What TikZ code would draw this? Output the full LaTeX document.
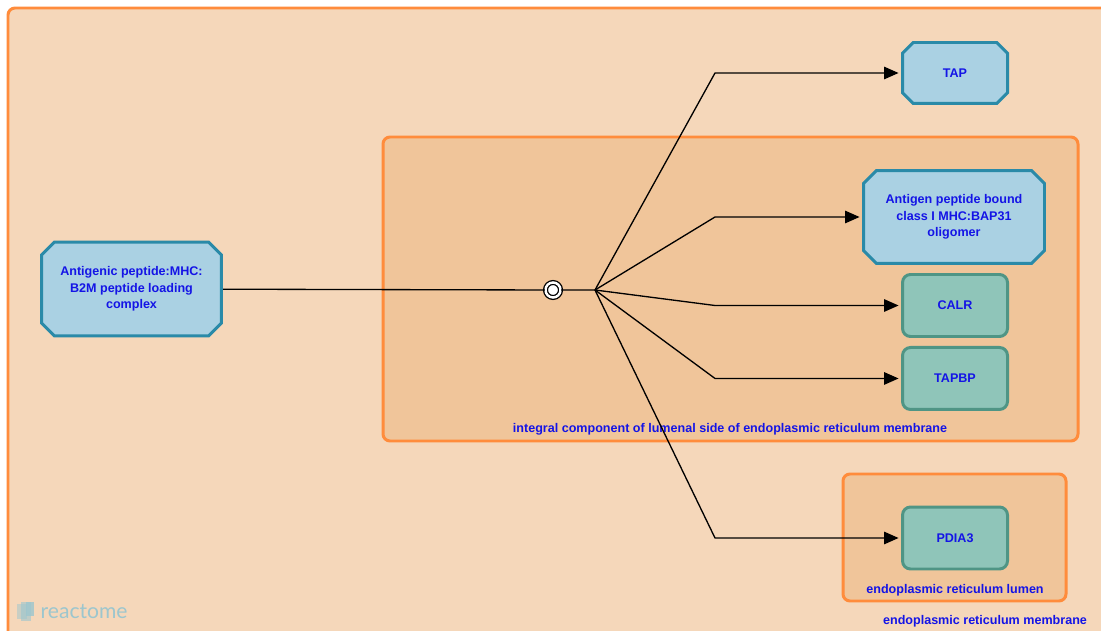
\documentclass[tikz,border=0pt]{standalone}
\usepackage{fontspec}
\setmainfont{Liberation Sans}
\newfontfamily\logofont{Lato}
\usetikzlibrary{arrows.meta,positioning,shapes.misc}

\definecolor{outerfill}{HTML}{F5D7BA}
\definecolor{innerfill}{HTML}{F0C59A}
\definecolor{compline}{HTML}{FF8C3C}
\definecolor{cplxfill}{HTML}{AAD1E3}
\definecolor{cplxline}{HTML}{2A8AA8}
\definecolor{protfill}{HTML}{8FC5B9}
\definecolor{protline}{HTML}{4F9585}
\definecolor{txtblue}{HTML}{1414E6}
\definecolor{logoblue}{HTML}{9CC6CE}

\begin{document}
\begin{tikzpicture}[x=0.02cm,y=-0.02cm,line width=0.75pt,
    >={Triangle[length=0.29cm,width=0.25cm]},
    comp/.style={draw=compline,line width=1.7pt,rounded corners=0.14cm},
    comp label/.style={text=txtblue,font=\fontsize{7.15}{9.4}\selectfont\bfseries},
    complex node/.style={chamfered rectangle,chamfered rectangle xsep=0.13cm,chamfered rectangle ysep=0.13cm,draw=cplxline,fill=cplxfill,line width=1.7pt,align=center,text=txtblue,font=\fontsize{7.15}{9.4}\selectfont\bfseries,inner sep=0pt},
    protein node/.style={rectangle,rounded corners=0.16cm,draw=protline,fill=protfill,line width=1.7pt,minimum width=2.1cm,minimum height=1.24cm,align=center,text=txtblue,font=\fontsize{7.15}{9.4}\selectfont\bfseries},
    reaction node/.style={circle,draw=black,fill=white,double=white,double distance=1.4pt,line width=0.75pt,minimum size=0.3cm,inner sep=0pt},
    conn/.style={->,shorten >=1.4pt}]
            \useasboundingbox (0,0) rectangle (1101,631);
            \clip (0,0) rectangle (1101,631);

            \draw[comp,fill=outerfill] (8,8) rectangle (1130,660);
            \draw[comp,fill=innerfill] (383,137) rectangle (1078,441);
            \draw[comp,fill=innerfill] (843,474) rectangle (1066,601);
            \node[comp label] (erm) at (985,621) {endoplasmic reticulum membrane};
            \node[comp label] (lum) at (730,429) {integral component of lumenal side of endoplasmic reticulum membrane};
            \node[comp label] (erl) at (955,590) {endoplasmic reticulum lumen};

            \node[complex node,minimum width=3.6cm,minimum height=1.88cm] (cplx) at (131.5,289) {Antigenic peptide:MHC:\\B2M peptide loading\\complex};
            \node[complex node,minimum width=2.1cm,minimum height=1.22cm] (tap) at (955,73) {TAP};
            \node[complex node,minimum width=3.62cm,minimum height=1.86cm] (bap) at (954,217) {Antigen peptide bound\\class I MHC:BAP31\\oligomer};
            \node[protein node] (calr) at (955,305.5) {CALR};
            \node[protein node] (tapbp) [below = 0.16cm of calr] {TAPBP};
            \node[protein node] (pdia) at (955,538) {PDIA3};

            \node[reaction node] (rxn) at (553,290) {};
            \coordinate (b) at (595,290);
            \coordinate (kx) at (715,0);
            \coordinate (k1) at (kx |- tap);
            \coordinate (k2) at (kx |- bap);
            \coordinate (k3) at (kx |- calr);
            \coordinate (k4) at (kx |- tapbp);
            \coordinate (k5) at (kx |- pdia);

            \draw (cplx) -- (rxn) -- (b);
            \draw[conn] (b) -- (k1) -- (tap);
            \draw[conn] (b) -- (k2) -- (bap);
            \draw[conn] (b) -- (k3) -- (calr);
            \draw[conn] (b) -- (k4) -- (tapbp);
            \draw[conn] (b) -- (k5) -- (pdia);

            \fill[logoblue,opacity=0.5] (17,604) rectangle (27,619);
            \fill[logoblue,opacity=0.6] (21,602) rectangle (31,621);
            \fill[logoblue,opacity=0.8] (26,602) rectangle (34,616);
            \node[text=logoblue,font=\logofont\fontsize{12}{14}\selectfont,anchor=west,inner sep=0pt] (logo) at (40,612) {reactome};
        \end{tikzpicture}
\end{document}
